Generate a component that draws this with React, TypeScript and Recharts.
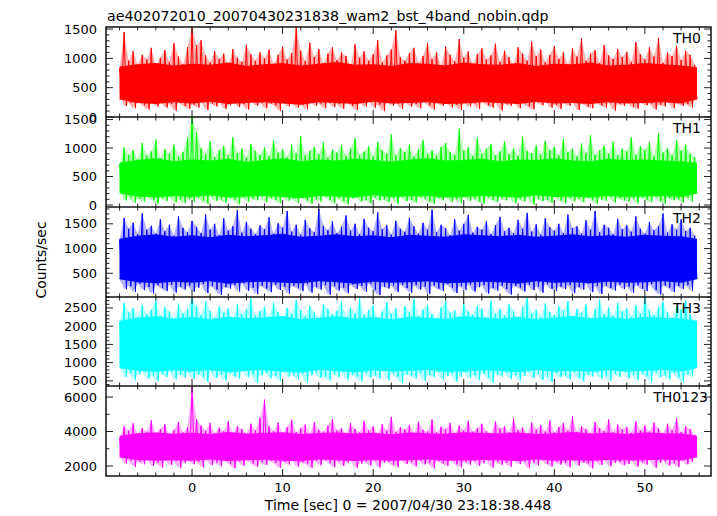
import React from 'react'
import { ComposedChart, Line, Area, XAxis, YAxis } from 'recharts'

// light curve envelope, 0.5 s bins starting at t = -8 s: max and min count rate per bin
const T_START = -8
const BIN = 0.5
// dense inner band, every 2 s
const CORE_STEP = 2
const T_END = 55.75

const th0Hi = [
  830, 1450, 960, 1120, 900, 1060, 980, 1180, 870, 1010, 1140, 940, 1260, 1030, 900, 1190,
  1530, 1220, 1310, 1050, 930, 1120, 990, 1080, 870, 1160, 1010, 940, 1230, 1070, 960, 1100,
  1000, 1150, 890, 1060, 1200, 980, 1090, 1530, 1130, 950, 1270, 1020, 1160, 910, 1080, 1190,
  970, 1100, 1040, 880, 1240, 1010, 1120, 960, 1070, 1310, 930, 1050, 1150, 1480, 1020, 960,
  1090, 1180, 920, 1040, 1260, 990, 1110, 870, 1200, 1060, 950, 1330, 1010, 1120, 900, 1070,
  1170, 980, 1050, 1250, 940, 1130, 1020, 890, 1190, 1080, 960, 1290, 1040, 1150, 930, 1060,
  1210, 990, 1100, 880, 1170, 1030, 1340, 960, 1080, 1140, 920, 1230, 1050, 990, 1160, 1020,
  1110, 940, 1280, 1070, 980, 1190, 1030, 1350, 920, 1100, 1040, 1210, 970, 1130, 1060, 890,
]
const th0Lo = [
  420, 190, 240, 150, 260, 200, 130, 250, 180, 270, 160, 220, 110, 240, 190, 140,
  210, 160, 270, 120, 230, 180, 250, 140, 200, 280, 170, 220, 130, 260, 190, 240,
  150, 230, 200, 110, 260, 180, 240, 160, 210, 130, 270, 190, 230, 150, 250, 170,
  220, 140, 260, 190, 120, 240, 180, 270, 160, 210, 100, 250, 190, 230, 140, 260,
  180, 220, 150, 270, 200, 130, 240, 190, 260, 160, 210, 120, 250, 180, 230, 140,
  270, 200, 160, 240, 110, 220, 190, 260, 150, 230, 180, 130, 250, 200, 270, 160,
  210, 140, 240, 190, 260, 120, 230, 180, 150, 270, 200, 160, 240, 110, 220, 190,
  250, 170, 140, 260, 200, 230, 130, 210, 180, 270, 150, 240, 190, 220, 160, 300,
]
const th0CoreHi = [
  860, 900, 920, 880, 910, 890, 930, 870, 900, 920, 880, 910, 940, 890, 900, 870,
  920, 910, 880, 930, 900, 890, 920, 870, 910, 900, 930, 880, 890, 920, 900, 880, 850,
]
const th0CoreLo = [
  300, 240, 220, 250, 230, 260, 220, 240, 250, 230, 210, 250, 240, 220, 260, 230,
  240, 250, 220, 230, 250, 240, 220, 260, 230, 240, 220, 250, 230, 240, 250, 230, 300,
]

const th1Hi = [
  720, 1010, 880, 960, 800, 1090, 870, 940, 1150, 820, 980, 900, 1060, 850, 930, 1180,
  1540, 1280, 1000, 890, 1120, 840, 960, 1040, 870, 1190, 910, 990, 830, 1070, 950, 880,
  1010, 860, 1130, 920, 980, 840, 1060, 900, 1210, 870, 950, 1020, 890, 1100, 830, 970,
  920, 1050, 860, 990, 1170, 880, 940, 1030, 850, 1110, 960, 900, 1240, 870, 1000, 930,
  1060, 850, 980, 1140, 900, 960, 870, 1020, 1090, 930, 880, 1340, 950, 1010, 860, 1180,
  900, 990, 1070, 870, 940, 1120, 890, 1000, 860, 1200, 950, 910, 1050, 880, 1130, 960,
  1020, 870, 1160, 930, 990, 850, 1080, 910, 1230, 880, 960, 1040, 900, 1110, 870, 990,
  940, 1190, 880, 1030, 960, 1100, 850, 1260, 920, 1000, 870, 1140, 950, 1060, 900, 840,
]
const th1Lo = [
  260, 80, 130, 40, 110, 60, 150, 90, 20, 120, 70, 140, 50, 100, 30, 110,
  60, 130, 80, 20, 140, 70, 100, 40, 120, 90, 10, 130, 60, 110, 80, 150,
  50, 120, 90, 30, 140, 70, 110, 40, 130, 80, 20, 100, 60, 150, 90, 30,
  120, 70, 10, 110, 140, 60, 90, 30, 130, 80, 100, 50, 120, 20, 140, 70,
  90, 40, 130, 110, 60, 20, 120, 80, 150, 50, 100, 30, 140, 70, 110, 60,
  20, 130, 90, 50, 120, 80, 140, 30, 100, 60, 130, 10, 110, 70, 90, 40,
  140, 80, 30, 120, 60, 110, 50, 130, 90, 20, 100, 70, 140, 40, 120, 80,
  60, 110, 30, 130, 90, 50, 140, 70, 20, 120, 80, 100, 40, 130, 60, 200,
]
const th1CoreHi = [
  740, 790, 820, 770, 800, 780, 810, 760, 790, 820, 770, 800, 780, 810, 790, 760,
  800, 820, 780, 790, 810, 770, 800, 790, 820, 780, 770, 810, 790, 800, 780, 770, 740,
]
const th1CoreLo = [
  200, 150, 130, 160, 140, 170, 130, 150, 160, 140, 120, 160, 150, 130, 170, 140,
  150, 160, 130, 140, 160, 150, 130, 170, 140, 150, 130, 160, 140, 150, 160, 140, 200,
]

const th2Hi = [
  1180, 1620, 1400, 1520, 1290, 1710, 1380, 1460, 1300, 1590, 1350, 1480, 1260, 1650, 1420, 1330,
  1560, 1440, 1310, 1690, 1380, 1500, 1270, 1610, 1360, 1450, 1780, 1320, 1540, 1400, 1290, 1470,
  1390, 1630, 1300, 1510, 1420, 1760, 1340, 1480, 1280, 1580, 1410, 1330, 1800, 1460, 1370, 1550,
  1310, 1440, 1670, 1360, 1500, 1290, 1600, 1420, 1350, 1730, 1390, 1470, 1280, 1560, 1400, 1340,
  1620, 1450, 1300, 1520, 1380, 1790, 1330, 1480, 1410, 1270, 1590, 1360, 1500, 1680, 1320, 1440,
  1380, 1550, 1290, 1470, 1640, 1350, 1420, 1310, 1580, 1400, 1720, 1340, 1490, 1280, 1610, 1430,
  1360, 1500, 1310, 1690, 1410, 1450, 1300, 1570, 1380, 1760, 1330, 1480, 1420, 1290, 1600, 1390,
  1470, 1340, 1650, 1400, 1300, 1540, 1370, 1450, 1710, 1320, 1490, 1380, 1590, 1350, 1420, 1260,
]
const th2Lo = [
  380, 180, 240, 120, 290, 160, 220, 90, 260, 200, 140, 270, 110, 230, 170, 250,
  130, 210, 280, 100, 240, 170, 60, 220, 190, 260, 130, 300, 150, 210, 80, 250,
  190, 120, 270, 160, 230, 90, 250, 200, 140, 280, 110, 220, 170, 260, 70, 240,
  150, 210, 100, 270, 180, 240, 130, 290, 160, 60, 230, 190, 250, 120, 270, 200,
  110, 260, 170, 230, 80, 250, 190, 140, 280, 210, 100, 240, 160, 270, 130, 220,
  260, 90, 200, 150, 250, 180, 70, 240, 210, 130, 270, 160, 230, 110, 280, 190,
  140, 230, 180, 260, 100, 220, 170, 290, 120, 240, 80, 250, 200, 150, 270, 180,
  230, 110, 260, 190, 140, 280, 160, 70, 250, 210, 120, 240, 180, 260, 150, 380,
]
const th2CoreHi = [
  1200, 1260, 1290, 1240, 1270, 1230, 1280, 1250, 1270, 1300, 1240, 1260, 1290, 1250, 1270, 1230,
  1280, 1260, 1240, 1290, 1270, 1250, 1280, 1240, 1260, 1290, 1250, 1270, 1240, 1280, 1260, 1250, 1200,
]
const th2CoreLo = [
  380, 320, 300, 330, 310, 340, 290, 320, 330, 310, 300, 340, 320, 290, 330, 310,
  320, 340, 300, 310, 330, 320, 290, 340, 310, 320, 300, 330, 310, 320, 340, 310, 380,
]

const th3Hi = [
  2100, 2640, 2380, 2500, 2250, 2580, 2320, 2450, 2710, 2280, 2520, 2400, 2190, 2620, 2350, 2470,
  2790, 2560, 2300, 2680, 2420, 2230, 2540, 2370, 2490, 2200, 2600, 2330, 2460, 2760, 2290, 2410,
  2530, 2260, 2650, 2390, 2180, 2500, 2340, 2720, 2440, 2270, 2560, 2380, 2210, 2610, 2470, 2320,
  2420, 2690, 2250, 2510, 2360, 2780, 2300, 2450, 2570, 2230, 2400, 2660, 2340, 2490, 2200, 2550,
  2380, 2740, 2280, 2460, 2590, 2330, 2220, 2510, 2680, 2370, 2440, 2260, 2630, 2400, 2310, 2560,
  2470, 2210, 2700, 2350, 2480, 2290, 2600, 2420, 2180, 2530, 2770, 2360, 2450, 2250, 2620, 2390,
  2300, 2540, 2420, 2690, 2240, 2480, 2370, 2590, 2200, 2460, 2730, 2330, 2510, 2280, 2640, 2400,
  2490, 2260, 2580, 2350, 2790, 2440, 2300, 2520, 2670, 2380, 2230, 2560, 2450, 2710, 2320, 2150,
]
const th3Lo = [
  900, 600, 720, 520, 680, 760, 560, 640, 490, 700, 610, 750, 540, 670, 590, 730,
  550, 690, 620, 470, 740, 580, 660, 510, 710, 630, 560, 770, 600, 680, 450, 650,
  720, 570, 640, 500, 760, 610, 680, 540, 700, 460, 650, 730, 580, 620, 510, 690,
  600, 740, 530, 670, 620, 480, 710, 590, 650, 560, 770, 520, 690, 610, 440, 680,
  640, 560, 720, 500, 660, 600, 750, 540, 630, 700, 480, 610, 740, 570, 650, 520,
  700, 590, 460, 680, 620, 730, 550, 660, 510, 640, 760, 580, 690, 530, 620, 470,
  710, 600, 650, 540, 740, 580, 490, 670, 620, 720, 560, 640, 500, 690, 610, 750,
  570, 660, 520, 700, 630, 480, 740, 590, 650, 540, 710, 600, 460, 680, 620, 900,
]
const th3CoreHi = [
  2150, 2230, 2270, 2210, 2250, 2190, 2260, 2220, 2240, 2280, 2200, 2230, 2270, 2210, 2250, 2180,
  2260, 2230, 2200, 2270, 2240, 2210, 2260, 2190, 2230, 2280, 2220, 2250, 2200, 2260, 2230, 2210, 2150,
]
const th3CoreLo = [
  850, 780, 750, 790, 760, 800, 740, 780, 790, 760, 730, 800, 770, 740, 790, 760,
  780, 800, 750, 760, 790, 770, 740, 800, 760, 780, 750, 790, 760, 780, 800, 760, 850,
]

const thAllHi = [
  3600, 4300, 4050, 4480, 3850, 4200, 3980, 4650, 3900, 4150, 4420, 3800, 4100, 4560, 3950, 4250,
  6600, 4700, 4350, 4050, 4500, 3880, 4220, 4010, 4600, 3920, 4300, 4150, 3850, 4450, 4080, 4800,
  5850, 4300, 4020, 4520, 3900, 4250, 4680, 3960, 4180, 4400, 3870, 4550, 4100, 3990, 4340, 4720,
  4060, 4200, 3890, 4480, 4150, 3940, 4620, 4080, 4300, 3860, 4420, 4050, 4850, 3980, 4250, 4120,
  4380, 3920, 4560, 4100, 4000, 4700, 3950, 4280, 4150, 4500, 3880, 4350, 4060, 4620, 3990, 4200,
  4450, 4020, 3900, 4580, 4170, 4300, 3960, 4750, 4080, 4230, 3870, 4520, 4110, 4380, 4000, 4640,
  3940, 4260, 4490, 4050, 4880, 3980, 4320, 4140, 3900, 4560, 4200, 4030, 4700, 3970, 4400, 4120,
  4270, 3910, 4600, 4060, 4350, 3990, 4520, 4180, 3880, 4450, 4090, 4780, 3960, 4300, 4150, 3800,
]
const thAllLo = [
  2600, 2150, 2300, 1950, 2250, 2100, 2400, 2000, 2200, 1900, 2350, 2050, 2280, 1880, 2180, 2320,
  2100, 2250, 1920, 2380, 2050, 2200, 1980, 2300, 2130, 1870, 2270, 2020, 2350, 2150, 1950, 2220,
  2060, 2300, 2170, 1900, 2240, 2080, 2360, 1960, 2210, 2120, 1890, 2290, 2040, 2330, 2190, 1930,
  2270, 2010, 2200, 2350, 1880, 2140, 2260, 2030, 2310, 1910, 2180, 2250, 2070, 1940, 2370, 2120,
  2220, 1970, 2300, 2090, 2180, 1860, 2280, 2150, 2000, 2340, 2100, 1920, 2230, 2060, 2290, 2010,
  2160, 2320, 1900, 2240, 2070, 2190, 1950, 2300, 2110, 2260, 1880, 2200, 2040, 2340, 2130, 1970,
  2250, 2080, 2180, 1930, 2310, 2020, 2200, 2140, 1870, 2280, 2060, 2350, 1990, 2170, 2240, 2050,
  2120, 2300, 1960, 2210, 2080, 2360, 1900, 2190, 2270, 2030, 2150, 1940, 2330, 2100, 2230, 2600,
]
const thAllCoreHi = [
  3750, 3900, 3950, 3870, 3930, 3850, 3970, 3890, 3920, 3960, 3860, 3910, 3950, 3880, 3930, 3840,
  3940, 3900, 3870, 3960, 3910, 3880, 3950, 3850, 3900, 3970, 3890, 3930, 3860, 3950, 3900, 3880, 3750,
]
const thAllCoreLo = [
  2500, 2350, 2300, 2340, 2310, 2370, 2290, 2330, 2360, 2310, 2280, 2370, 2330, 2290, 2350, 2310,
  2340, 2370, 2300, 2320, 2350, 2330, 2290, 2370, 2310, 2340, 2300, 2350, 2320, 2330, 2370, 2320, 2500,
]

const xTicks = [
  -8, -6, -4, -2, 0, 2, 4, 6, 8, 10, 12, 14, 16, 18, 20, 22, 24, 26, 28,
  30, 32, 34, 36, 38, 40, 42, 44, 46, 48, 50, 52, 54, 56,
]
const xLabels = [0, 10, 20, 30, 40, 50]

const panels = [
  { name: 'TH0', color: '#ff0000', hi: th0Hi, lo: th0Lo, coreHi: th0CoreHi, coreLo: th0CoreLo, domain: [0, 1535], labels: [0, 500, 1000, 1500], step: 100, nameX: 701 },
  { name: 'TH1', color: '#00ff00', hi: th1Hi, lo: th1Lo, coreHi: th1CoreHi, coreLo: th1CoreLo, domain: [-35, 1545], labels: [0, 500, 1000, 1500], step: 100, nameX: 701 },
  { name: 'TH2', color: '#0000ff', hi: th2Hi, lo: th2Lo, coreHi: th2CoreHi, coreLo: th2CoreLo, domain: [20, 1840], labels: [500, 1000, 1500], step: 100, nameX: 701 },
  { name: 'TH3', color: '#00ffff', hi: th3Hi, lo: th3Lo, coreHi: th3CoreHi, coreLo: th3CoreLo, domain: [360, 2800], labels: [500, 1000, 1500, 2000, 2500], step: 100, nameX: 701 },
  { name: 'TH0123', color: '#ff00ff', hi: thAllHi, lo: thAllLo, coreHi: thAllCoreHi, coreLo: thAllCoreLo, domain: [1420, 6640], labels: [2000, 4000, 6000], step: 1000, nameX: 708 },
]

const W = 717
const PLOT_L = 106
const PLOT_R = 711
const PLOT_W = PLOT_R - PLOT_L
const TOPS = [27, 117, 207, 297, 386]
const BOTTOM = 476
const PAD = 12
const X_DOMAIN = [-9.5, 57.3]
const FONT = 'DejaVu Sans, sans-serif'
const INK = '#222'

function zigzag(hi: number[], lo: number[]) {
  const rows: { t: number; v: number }[] = []
  hi.forEach((h, i) => {
    const t = T_START + i * BIN
    rows.push({ t, v: h })
    rows.push({ t: t + BIN / 2, v: lo[i] })
  })
  return rows
}

function envelope(hi: number[], lo: number[], step: number) {
  return hi.map((h, i) => ({ t: Math.min(T_START + i * step, T_END), c: [lo[i], h] }))
}

function yTicksFor(domain: number[], step: number) {
  const out: number[] = []
  for (let v = Math.ceil(domain[0] / step) * step; v <= domain[1]; v += step) out.push(v)
  return out
}

function Panel({ p, top, h, last }: any) {
  const rows = zigzag(p.hi, p.lo)
  const outer = envelope(p.hi, p.lo, BIN)
  const core = envelope(p.coreHi, p.coreLo, CORE_STEP)
  const yTicks = yTicksFor(p.domain, p.step)

  const xTick = (props: any) => {
    const { x, y, payload } = props
    const major = xLabels.includes(payload.value)
    const len = major ? 7 : 3.5
    return (
      <g>
        <line x1={x} y1={y} x2={x} y2={y - len} stroke={INK} />
        <line x1={x} y1={y - h} x2={x} y2={y - h + len} stroke={INK} />
        {last && major && (
          <text x={x} y={y + 16} textAnchor="middle" fontSize={13} fontFamily={FONT} fill="#000">
            {payload.value}
          </text>
        )}
      </g>
    )
  }

  const yTick = (props: any) => {
    const { x, y, payload } = props
    const major = p.labels.includes(payload.value)
    const len = major ? 7 : 3.5
    return (
      <g>
        <line x1={x} y1={y} x2={x + len} y2={y} stroke={INK} />
        <line x1={x + PLOT_W} y1={y} x2={x + PLOT_W - len} y2={y} stroke={INK} />
        {major && (
          <text x={x - 9} y={y + 4.5} textAnchor="end" fontSize={13} fontFamily={FONT} fill="#000">
            {payload.value}
          </text>
        )}
      </g>
    )
  }

  return (
    <div style={{ position: 'absolute', left: 0, top: top - PAD }}>
      <ComposedChart width={W} height={h + PAD + 30} margin={{ top: PAD, right: W - PLOT_R, bottom: 0, left: 0 }}>
        <XAxis
          type="number"
          dataKey="t"
          domain={X_DOMAIN}
          ticks={xTicks}
          interval={0}
          height={30}
          tickSize={0}
          tickMargin={0}
          axisLine={false}
          tickLine={false}
          allowDataOverflow
          tick={xTick}
        />
        <YAxis
          type="number"
          domain={p.domain}
          ticks={yTicks}
          interval={0}
          width={PLOT_L}
          tickSize={0}
          tickMargin={0}
          axisLine={false}
          tickLine={false}
          allowDataOverflow
          tick={yTick}
        />
        <Area data={outer} type="linear" dataKey="c" stroke="none" fill={p.color} fillOpacity={0.3} isAnimationActive={false} />
        <Area data={core} type="linear" dataKey="c" stroke="none" fill={p.color} fillOpacity={1} isAnimationActive={false} />
        <Line data={rows} type="linear" dataKey="v" stroke={p.color} strokeWidth={1} dot={false} isAnimationActive={false} />
      </ComposedChart>
    </div>
  )
}

export default function App() {
  return (
    <div style={{ position: 'absolute', left: 0, top: 0, width: W, height: 516, background: '#fff' }}>
      {panels.map((p, i) => {
        const top = TOPS[i]
        const h = (i < 4 ? TOPS[i + 1] : BOTTOM) - top
        return <Panel key={p.name} p={p} top={top} h={h} last={i === 4} />
      })}
      <svg width={W} height={516} style={{ position: 'absolute', left: 0, top: 0, pointerEvents: 'none' }}>
        <rect x={PLOT_L} y={TOPS[0]} width={PLOT_W} height={BOTTOM - TOPS[0]} fill="none" stroke="#111" strokeWidth={1.5} />
        {TOPS.slice(1).map(t => (
          <line key={t} x1={PLOT_L} x2={PLOT_R} y1={t} y2={t} stroke="#111" strokeWidth={1.5} />
        ))}
        {panels.map((p, i) => (
          <text key={p.name} x={p.nameX} y={TOPS[i] + 16} textAnchor="end" fontSize={14} fontFamily={FONT} fill="#000">
            {p.name}
          </text>
        ))}
        <text x={107} y={21} fontSize={14.2} fontFamily={FONT} fill="#000">
          ae402072010_20070430231838_wam2_bst_4band_nobin.qdp
        </text>
        <text transform="translate(46,260) rotate(-90)" textAnchor="middle" fontSize={14} fontFamily={FONT} fill="#000">
          Counts/sec
        </text>
        <text x={408} y={510} textAnchor="middle" fontSize={14} fontFamily={FONT} fill="#000">
          Time [sec] 0 = 2007/04/30 23:18:38.448
        </text>
      </svg>
    </div>
  )
}
